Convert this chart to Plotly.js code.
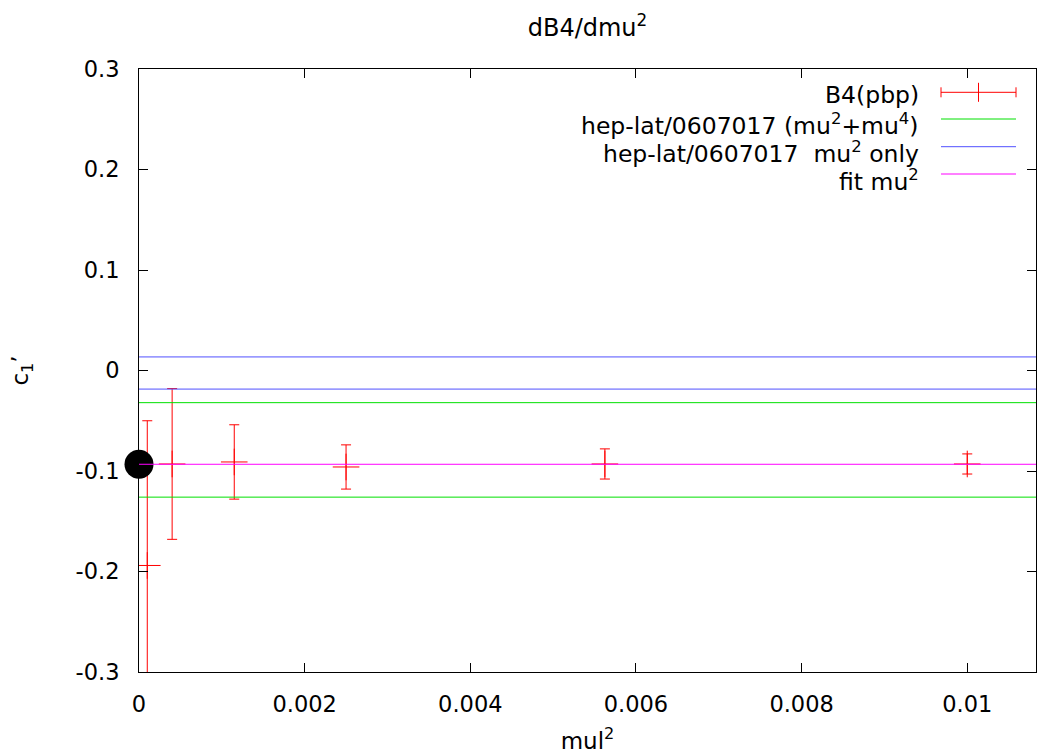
<!DOCTYPE html>
<html>
<head>
<meta charset="utf-8">
<script src="https://cdn.plot.ly/plotly-3.0.1.min.js"></script>
<style>html,body{margin:0;padding:0;background:#fff;}#chart{width:1037px;height:754px;}</style>
</head>
<body>
<div id="chart"></div>
<script>
// ---- data ----
const mul2 = [0.0001, 0.0004, 0.00115, 0.0025, 0.005625, 0.01];
const b4pbp = [-0.194, -0.093, -0.091, -0.096, -0.093, -0.093];
const b4err = [0.144, 0.075, 0.037, 0.022, 0.015, 0.010];

const xRange = [0, 0.01083];
const yRange = [-0.3, 0.3];

const greenLevels = [-0.032, -0.126];   // hep-lat/0607017 (mu^2+mu^4)
const blueLevels = [0.0135, -0.0185];    // hep-lat/0607017 mu^2 only
const fitLevel = -0.0933;               // fit mu^2
const fitPointX = [0];

const xTickVals = [0, 0.002, 0.004, 0.006, 0.008, 0.01];
const xTickText = ['0', '0.002', '0.004', '0.006', '0.008', '0.01'];
const yTickVals = [-0.3, -0.2, -0.1, 0, 0.1, 0.2, 0.3];
const yTickText = ['-0.3', '-0.2', '-0.1', '0', '0.1', '0.2', '0.3'];

const legendLabels = ['B4(pbp)', 'hep-lat/0607017 (mu<sup>2</sup>+mu<sup>4</sup>)', 'hep-lat/0607017  mu<sup>2</sup> only', 'fit mu<sup>2</sup>'];
const colors = {red: '#ff0000', green: '#00e000', blue: '#5050ff', magenta: '#ff00ff'};

// ---- layout geometry ----
const W = 1037, H = 754;
const M = {l: 139, r: 1, t: 69, b: 82};
const plotW = W - M.l - M.r, plotH = H - M.t - M.b;
const pxX = px => (px - M.l) / plotW;
const pxY = py => (H - M.b - py) / plotH;
const FONT = 'DejaVu Sans, Liberation Sans, Arial, sans-serif';

const traces = [];
traces.push({
  type: 'scatter', mode: 'markers', x: mul2, y: b4pbp,
  marker: {symbol: 'cross-thin-open', size: 19, color: colors.red, line: {color: colors.red, width: 1}},
  error_y: {type: 'data', array: b4err, visible: true, color: colors.red, thickness: 1, width: 5},
  showlegend: false, hoverinfo: 'x+y'
});
traces.push({
  type: 'scatter', mode: 'markers', x: fitPointX, y: [fitLevel],
  marker: {symbol: 'circle', size: 29, color: '#000000'},
  cliponaxis: false, showlegend: false
});
greenLevels.forEach(v => traces.push({
  type: 'scatter', mode: 'lines', x: xRange, y: [v, v],
  line: {color: colors.green, width: 1}, showlegend: false
}));
blueLevels.forEach(v => traces.push({
  type: 'scatter', mode: 'lines', x: xRange, y: [v, v],
  line: {color: colors.blue, width: 1}, showlegend: false
}));
traces.push({
  type: 'scatter', mode: 'lines', x: xRange, y: [fitLevel, fitLevel],
  line: {color: colors.magenta, width: 1}, showlegend: false
});

// ---- gnuplot style key (text right, sample left) ----
const keyRowsPx = [92.3, 119, 146.7, 174];
const keyColors = [colors.red, colors.green, colors.blue, colors.magenta];
const keyTextRight = 921, keyX0 = 941, keyX1 = 1016;
const annotations = [];
const shapes = [];
keyRowsPx.forEach((py, i) => {
  annotations.push({
    xref: 'paper', yref: 'paper', x: pxX(keyTextRight), y: pxY(py), xanchor: 'right', yanchor: 'middle',
    yshift: (i === 0 ? -3 : -6),
    text: legendLabels[i], showarrow: false, font: {family: FONT, size: 23.5, color: '#000'}
  });
  shapes.push({type: 'line', xref: 'paper', yref: 'paper', x0: pxX(keyX0), x1: pxX(keyX1), y0: pxY(py), y1: pxY(py),
    line: {color: keyColors[i], width: 1}});
});
// error-bar sample decorations
const ry = pxY(keyRowsPx[0]);
[[keyX0, 5], [keyX1, 5], [(keyX0 + keyX1) / 2, 9.5]].forEach(([px, h]) => {
  shapes.push({type: 'line', xref: 'paper', yref: 'paper', ysizemode: 'pixel', yanchor: ry,
    x0: pxX(px), x1: pxX(px), y0: -h, y1: h, line: {color: colors.red, width: 1}});
});

const axisCommon = {
  showline: true, linecolor: '#000', linewidth: 1, mirror: 'ticks',
  ticks: 'inside', ticklen: 9, tickwidth: 1, tickcolor: '#000',
  showgrid: false, zeroline: false, tickmode: 'array',
  tickfont: {family: FONT, size: 22.5, color: '#000'}
};

const layout = {
  width: W, height: H,
  margin: M,
  paper_bgcolor: '#fff', plot_bgcolor: '#fff',
  font: {family: FONT, size: 22, color: '#000'},
  title: {text: 'dB4/dmu<sup>2</sup>', font: {family: FONT, size: 24, color: '#000'},
    xref: 'paper', x: 0.5, xanchor: 'center', yref: 'container', y: 1 - 28 / H, yanchor: 'middle'},
  xaxis: Object.assign({}, axisCommon, {
    range: xRange, tickvals: xTickVals, ticktext: xTickText, ticklabelstandoff: 12,
    title: {text: 'mul<sup>2</sup>', font: {family: FONT, size: 23, color: '#000'}, standoff: 19}
  }),
  yaxis: Object.assign({}, axisCommon, {
    range: yRange, tickvals: yTickVals, ticktext: yTickText, ticklabelstandoff: 14,
    title: {text: 'c<sub>1</sub>’', font: {family: FONT, size: 23, color: '#000'}, standoff: 40}
  }),
  showlegend: false,
  annotations: annotations,
  shapes: shapes
};

Plotly.newPlot('chart', traces, layout, {displayModeBar: false, staticPlot: true});
</script>
</body>
</html>
